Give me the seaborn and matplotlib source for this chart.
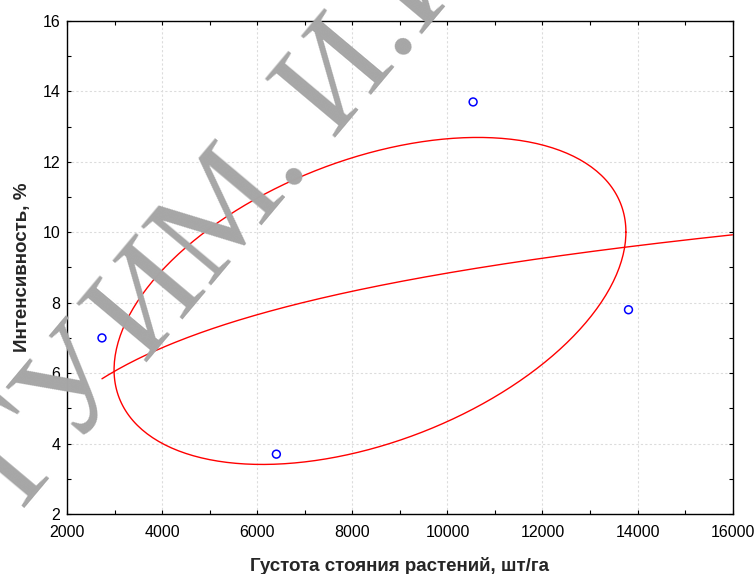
import numpy as np
import pandas as pd
import seaborn as sns
import matplotlib.pyplot as plt
from matplotlib.ticker import MultipleLocator

# data
density = [2730, 6400, 10540, 13810]      # Густота стояния растений, шт/га
intensity = [7.0, 3.7, 13.7, 7.8]          # Интенсивность, %
x_ticks = [2000, 4000, 6000, 8000, 10000, 12000, 14000, 16000]
y_ticks = [2, 4, 6, 8, 10, 12, 14, 16]
ellipse_k = 1.115

sns.set_style("white")
plt.rcParams["font.family"] = ["Liberation Sans", "DejaVu Sans"]

df = pd.DataFrame({"x": density, "y": intensity})

fig = plt.figure(figsize=(7.56, 5.74), dpi=100)
ax = fig.add_axes([0.089, 0.1045, 0.88, 0.859])

# log fit y = a + b*ln(x)
b, a = np.polyfit(np.log(df["x"]), df["y"], 1)
xs = np.linspace(df["x"].min(), x_ticks[-1], 200)
fit = pd.DataFrame({"x": xs, "y": a + b * np.log(xs)})

# ellipse from mean and covariance
mx, my = df["x"].mean(), df["y"].mean()
sx, sy = df["x"].std(), df["y"].std()
r = np.corrcoef(df["x"], df["y"])[0, 1]
t = np.linspace(0, 2 * np.pi, 300)
ell = pd.DataFrame({
    "x": mx + ellipse_k * sx * np.cos(t),
    "y": my + ellipse_k * sy * (r * np.cos(t) + np.sqrt(1 - r ** 2) * np.sin(t)),
})

sns.lineplot(data=fit, x="x", y="y", color="red", linewidth=1, ax=ax, zorder=3)
sns.lineplot(data=ell, x="x", y="y", sort=False, estimator=None, color="red",
             linewidth=1, ax=ax, zorder=3)
sns.scatterplot(data=df, x="x", y="y", marker="o", s=32, facecolors="none",
                edgecolor="blue", linewidth=1.1, ax=ax, zorder=4)

ax.set_xlim(x_ticks[0], x_ticks[-1])
ax.set_ylim(y_ticks[0], y_ticks[-1])
ax.set_xticks(x_ticks)
ax.set_yticks(y_ticks)
ax.xaxis.set_minor_locator(MultipleLocator(1000))
ax.yaxis.set_minor_locator(MultipleLocator(1))
ax.tick_params(which="both", direction="in", length=3, width=0.8,
               top=True, right=True, bottom=True, left=True,
               labelsize=11.5, colors="black")
ax.tick_params(axis="x", pad=8)
ax.tick_params(axis="y", pad=5)
ax.grid(True, which="major", color="#dcdcdc", linestyle=(0, (2, 2)), linewidth=0.8)
for s in ax.spines.values():
    s.set_color("black")
    s.set_linewidth(1)

ax.set_xlabel("Густота стояния растений, шт/га", fontsize=13.5, fontweight="bold", labelpad=12)
ax.set_ylabel("Интенсивность, %", fontsize=13.5, fontweight="bold", labelpad=8)

# watermark
fig.text(0.316, 0.650, "ГУ\u200aИМ. И.И.", fontsize=100, color="#a6a6a6",
         family=["Liberation Serif", "DejaVu Serif"], rotation=50,
         ha="center", va="center", zorder=1)

fig.savefig("out.png", dpi=100)
